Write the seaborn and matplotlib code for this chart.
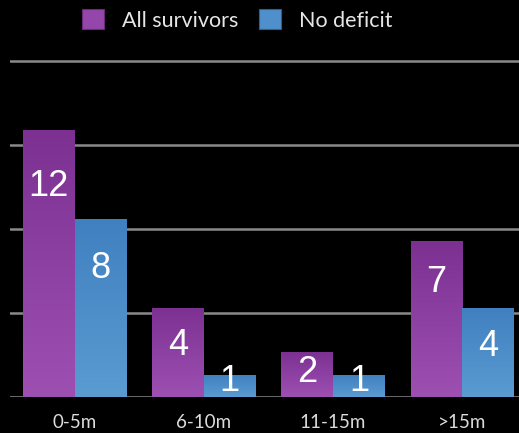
import numpy as np
import pandas as pd
import matplotlib
matplotlib.use("Agg")
import matplotlib.pyplot as plt
import seaborn as sns
from matplotlib.colors import LinearSegmentedColormap
from matplotlib.patches import Patch

categories = ["0-5m", "6-10m", "11-15m", ">15m"]
all_survivors = [12, 4, 2, 7]
no_deficit = [8, 1, 1, 4]
series_names = ["All survivors", "No deficit"]

# style: label offsets (pixels below bar top)
label_offsets_px = [[57, 38, 20, 41], [50, 7, 7, 39]]

df = pd.DataFrame({
    "category": categories * 2,
    "value": all_survivors + no_deficit,
    "series": [series_names[0]] * 4 + [series_names[1]] * 4,
})

sns.set_style("dark")
plt.rcParams["font.family"] = ["Lato", "DejaVu Sans"]

W, H = 519, 433
fig = plt.figure(figsize=(W / 100, H / 100), dpi=100, facecolor="black")
ylim_top = 15.3
ppu = 22.28
ax_h = ylim_top * ppu
ax = fig.add_axes([10.1 / W, (H - 397) / H, (W - 10.1) / W, ax_h / H])
ax.set_facecolor("black")

purple = "#8C40A4"
blue = "#4D8CC9"
sns.barplot(data=df, x="category", y="value", hue="series", order=categories,
            hue_order=series_names, palette=[purple, blue], width=0.8,
            saturation=1, dodge=True, ax=ax, legend=False, linewidth=0)

ax.set_xlim(-0.5, 3.44)
ax.set_ylim(0, ylim_top)
ax.set_yticks(np.linspace(0, 15.06, 5))
ax.set_yticklabels([])
ax.tick_params(axis="y", length=0)
ax.tick_params(axis="x", length=0, pad=12, labelsize=13.5, labelcolor="#DCDCDC")
ax.set_xlabel("")
ax.set_ylabel("")
for s in ax.spines.values():
    s.set_visible(False)
ax.grid(False)
ax.set_axisbelow(True)
for yv in np.linspace(0, 15.06, 5):
    ax.axhline(yv, color="#8A8A8A", lw=1.8, zorder=0)

grads = [
    LinearSegmentedColormap.from_list("p", ["#9D50B1", "#7C3192"]),
    LinearSegmentedColormap.from_list("b", ["#5A9BD2", "#4080C0"]),
]
grad_img = np.linspace(0, 1, 256).reshape(-1, 1)
for ci, cont in enumerate(ax.containers):
    for bi, bar in enumerate(cont):
        x0, y0 = bar.get_x(), bar.get_y()
        w, h = bar.get_width(), bar.get_height()
        im = ax.imshow(grad_img, cmap=grads[ci], aspect="auto",
                       extent=(x0, x0 + w, y0, y0 + h), origin="lower", zorder=2)
        im.set_clip_path(bar)
        off = label_offsets_px[ci][bi] * 72 / 100
        ax.annotate(f"{int(h)}", xy=(x0 + w / 2, y0 + h), xytext=(0, -off),
                    textcoords="offset points", ha="center", va="center",
                    color="white", fontsize=26, family=["Liberation Sans"], zorder=5)
ax.set_xlim(-0.5, 3.44)
ax.set_ylim(0, ylim_top)

handles = [Patch(facecolor="#9446AB", edgecolor="#6A2A7C", lw=0.8),
           Patch(facecolor="#4F8FCB", edgecolor="#2F5F8F", lw=0.8)]
fig.legend(handles, series_names, loc="center left",
           bbox_to_anchor=(82 / W, 1 - 20 / H), ncol=2, frameon=False,
           fontsize=15.5, labelcolor="#E6E6E6", handlelength=1.02,
           handleheight=1.02, handletextpad=0.85, columnspacing=0.95,
           borderpad=0, borderaxespad=0)

fig.savefig("out.png", dpi=100, facecolor="black")
